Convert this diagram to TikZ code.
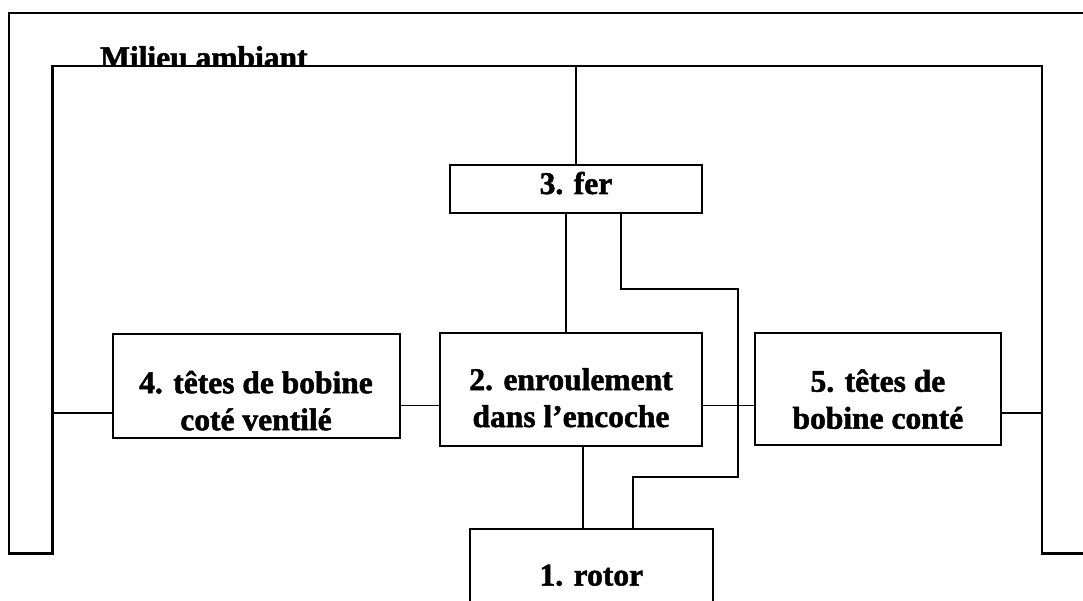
\documentclass[tikz,border=0pt]{standalone}
\usepackage{fontspec}
\setmainfont[BoldFeatures={FakeBold=1.6}]{Liberation Serif}
% two centred lines, baseline on the first one
\newcommand\twolines[2]{\begin{tabular}[t]{@{}c@{}}#1\\#2\end{tabular}}
\begin{document}
\begin{tikzpicture}[x=1pt,y=-1pt,
  bigtext/.style={font=\bfseries\fontsize{31.5}{37}\selectfont},
  frame/.style={line width=2.6pt, line join=miter},
  box/.style={draw, line width=2pt, inner sep=0pt, fill=white, bigtext},
  wire/.style={line width=1.8pt}]
\useasboundingbox (0,0) rectangle (1083,601);

% label of the surrounding medium, partly hidden by the inner area
\node[bigtext, anchor=base west, inner sep=0pt] (milieu) at (100,68) {Milieu ambiant};
\fill[white] (52.5,66) rectangle (1042,610);

% outer band
\coordinate (topin) at (52.5,66);
\coordinate (rightin) at (1042,412.7);
\draw[frame] (1090,13) -- (9,13) -- (9,553.5) -- (52.5,553.5) -- (topin)
  -- (1042,66) -- (1042,553.5) -- (1090,553.5);

% blocks
\node[box, minimum width=252pt, minimum height=48pt,
  text height=20pt, text depth=10pt] (fer) at (576,189) {3. fer};
\node[box, minimum width=262pt, minimum height=113pt,
  text height=20pt, text depth=19pt] (enr) at (571,389.5)
  {\twolines{2. enroulement}{dans l’encoche}};
\node[box, minimum width=287pt, minimum height=104.5pt,
  text height=22pt, text depth=8pt] (tv) at (256,386.2)
  {\twolines{4. têtes de bobine}{coté ventilé}};
\node[box, minimum width=245.7pt, minimum height=111.7pt,
  text height=20pt, text depth=15pt] (tc) at (877.9,389.2)
  {\twolines{5. têtes de}{bobine conté}};
\node[box, minimum width=242.5pt, minimum height=112pt,
  text height=20pt, text depth=19pt] (rotor) at (591.3,585) {1. rotor};

% links
\coordinate (mid) at (0,405.5);
\coordinate (lefty) at (0,413.3);
\coordinate (b1) at (738.3,289.3);
\coordinate (b2) at (738.3,477);

\draw[wire] (fer.north) -- (fer.north |- topin);
\draw[wire] ([xshift=-10pt]fer.south) -- ([xshift=-10pt]fer.south |- enr.north);
\draw[wire] ([xshift=44.7pt]fer.south) |- (b1) -- (b2) -| ([xshift=42pt]rotor.north);
\draw[wire] ([xshift=12.3pt]enr.south) -- ([xshift=12.3pt]enr.south |- rotor.north);
\draw[wire] (tv.west |- lefty) -- (topin |- lefty);
\draw[wire] (tv.east |- mid) -- (enr.west |- mid);
\draw[wire] (enr.east |- mid) -- (tc.west |- mid);
\draw[wire] (tc.east |- rightin) -- (rightin);
\end{tikzpicture}
\end{document}
